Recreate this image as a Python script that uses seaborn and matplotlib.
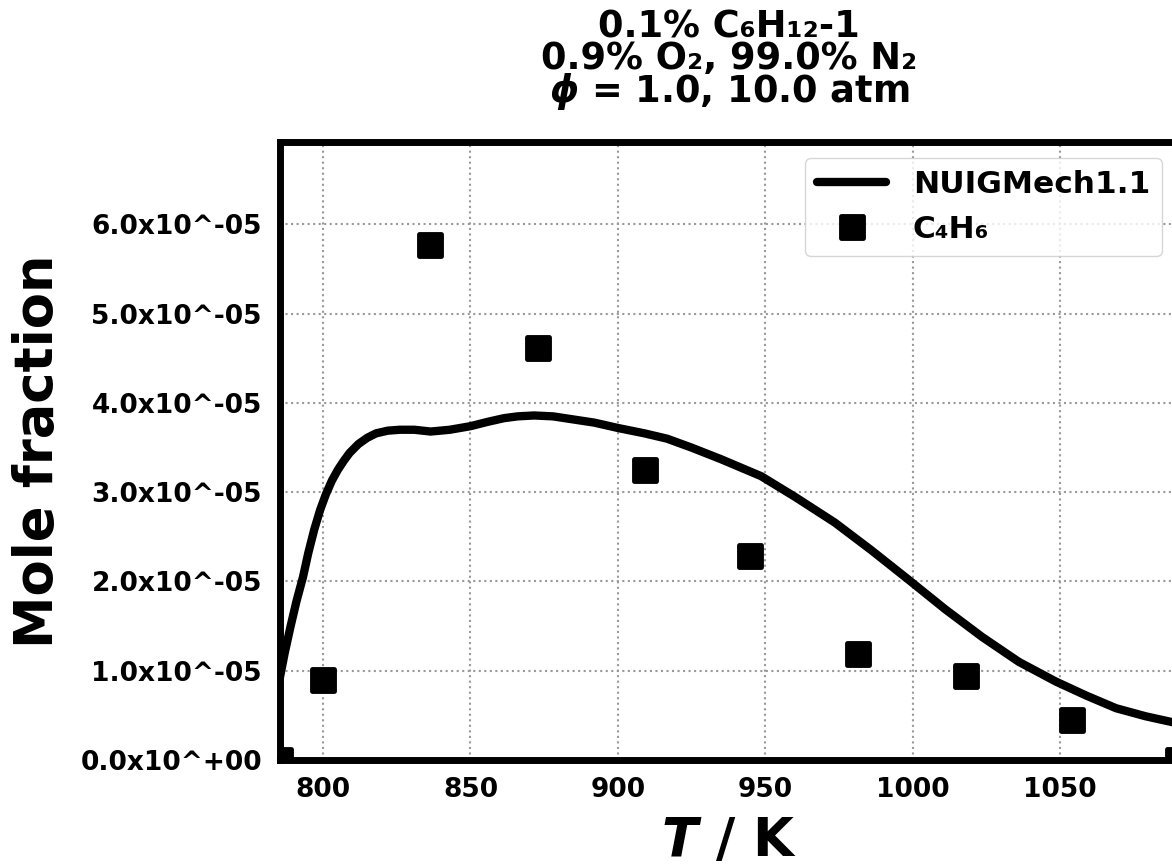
import numpy as np
import pandas as pd
import seaborn as sns
import matplotlib.pyplot as plt
from matplotlib.markers import MarkerStyle
from matplotlib.ticker import FuncFormatter, MultipleLocator

# model curve (NUIGMech1.1)
model_T = [785.4, 787.0, 789.0, 791.0, 793.2, 795.0, 797.0, 799.0, 801.0, 803.0,
           805.0, 807.0, 809.0, 812.0, 815.0, 818.0, 822.0, 826.0, 831.0, 836.5,
           843.0, 850.0, 856.0, 861.4, 866.0, 871.6, 878.0, 884.0, 892.0, 900.0,
           909.0, 916.7, 925.0, 935.0, 948.6, 960.0, 973.6, 986.0, 998.6, 1011.0,
           1023.5, 1036.0, 1048.5, 1059.0, 1069.0, 1079.0, 1090.0]
model_X = [0.93e-5, 1.20e-5, 1.50e-5, 1.78e-5, 2.05e-5, 2.32e-5, 2.58e-5, 2.80e-5, 2.98e-5, 3.13e-5,
           3.25e-5, 3.35e-5, 3.44e-5, 3.54e-5, 3.61e-5, 3.66e-5, 3.69e-5, 3.70e-5, 3.70e-5, 3.68e-5,
           3.70e-5, 3.74e-5, 3.79e-5, 3.83e-5, 3.85e-5, 3.86e-5, 3.85e-5, 3.82e-5, 3.78e-5, 3.72e-5,
           3.66e-5, 3.60e-5, 3.50e-5, 3.37e-5, 3.18e-5, 2.95e-5, 2.66e-5, 2.35e-5, 2.02e-5, 1.69e-5,
           1.38e-5, 1.10e-5, 0.88e-5, 0.72e-5, 0.58e-5, 0.49e-5, 0.41e-5]

# experiment, C4H6
exp_T = [785.4, 800.0, 836.4, 872.9, 909.3, 944.8, 981.5, 1018.0, 1054.0, 1090.0]
exp_X = [0.0, 0.90e-5, 5.77e-5, 4.62e-5, 3.25e-5, 2.29e-5, 1.19e-5, 0.94e-5, 0.45e-5, 0.0]

title_lines = ["0.1% C₆H₁₂-1", "0.9% O₂, 99.0% N₂", r"$\mathit{\phi}$ = 1.0, 10.0 atm"]

sns.set_style("white")
plt.rcParams['font.family'] = ['DejaVu Sans']
plt.rcParams['font.weight'] = 'bold'
plt.rcParams['text.color'] = 'black'
plt.rcParams['axes.labelcolor'] = 'black'
plt.rcParams['xtick.color'] = 'black'
plt.rcParams['ytick.color'] = 'black'
plt.rcParams['mathtext.fontset'] = 'custom'
plt.rcParams['mathtext.rm'] = 'DejaVu Sans:bold'
plt.rcParams['mathtext.bf'] = 'DejaVu Sans:bold'
plt.rcParams['mathtext.it'] = 'DejaVu Sans:italic:bold'
plt.rcParams['mathtext.default'] = 'bf'

model_df = pd.DataFrame({'T': model_T, 'X': model_X})
exp_df = pd.DataFrame({'T': exp_T, 'X': exp_X})

fig = plt.figure(figsize=(11.72, 8.67), dpi=100)
ax = fig.add_axes([280 / 1172, 107 / 867, 898 / 1172, 618 / 867])

sns.lineplot(data=model_df, x='T', y='X', ax=ax, color='black', linewidth=6,
             label='NUIGMech1.1', sort=False)
sq = MarkerStyle('s', joinstyle='round')
sns.lineplot(data=exp_df, x='T', y='X', ax=ax, color='black', linestyle='',
             marker=sq, markersize=16.5, markeredgewidth=3.5, markeredgecolor='black',
             label='C₄H₆', sort=False)

ax.set_xlim(785.4, 1090)
ax.set_ylim(0, 1.2 * max(exp_X))
ax.xaxis.set_major_locator(MultipleLocator(50))
ax.yaxis.set_major_locator(MultipleLocator(1e-5))
ax.yaxis.set_major_formatter(FuncFormatter(lambda v, p: f"{v:.1e}".replace('e', 'x10^')))

ax.grid(True, linestyle=':', color='#999999', linewidth=1.5)
for s in ax.spines.values():
    s.set_linewidth(5)
    s.set_color('black')
ax.tick_params(axis='x', direction='out', length=6, width=5, pad=6, labelsize=19)
ax.tick_params(axis='y', length=0, pad=13, labelsize=19)
for lab in ax.get_xticklabels() + ax.get_yticklabels():
    lab.set_fontweight('bold')

ax.set_xlabel(r"$\mathit{T}$ / K", fontsize=38, fontweight='bold', labelpad=9)
ax.set_ylabel("Mole fraction", fontsize=38, fontweight='bold', labelpad=12)
ax.set_title("\n".join(title_lines), fontsize=26.5, fontweight='bold', pad=29, linespacing=0.8)

leg = ax.legend(loc='upper right', fontsize=22.5, handlelength=2.2, handletextpad=0.85,
                frameon=True, fancybox=True, edgecolor='#cccccc')
for t in leg.get_texts():
    t.set_fontweight('bold')

fig.savefig('out.png', dpi=100)
